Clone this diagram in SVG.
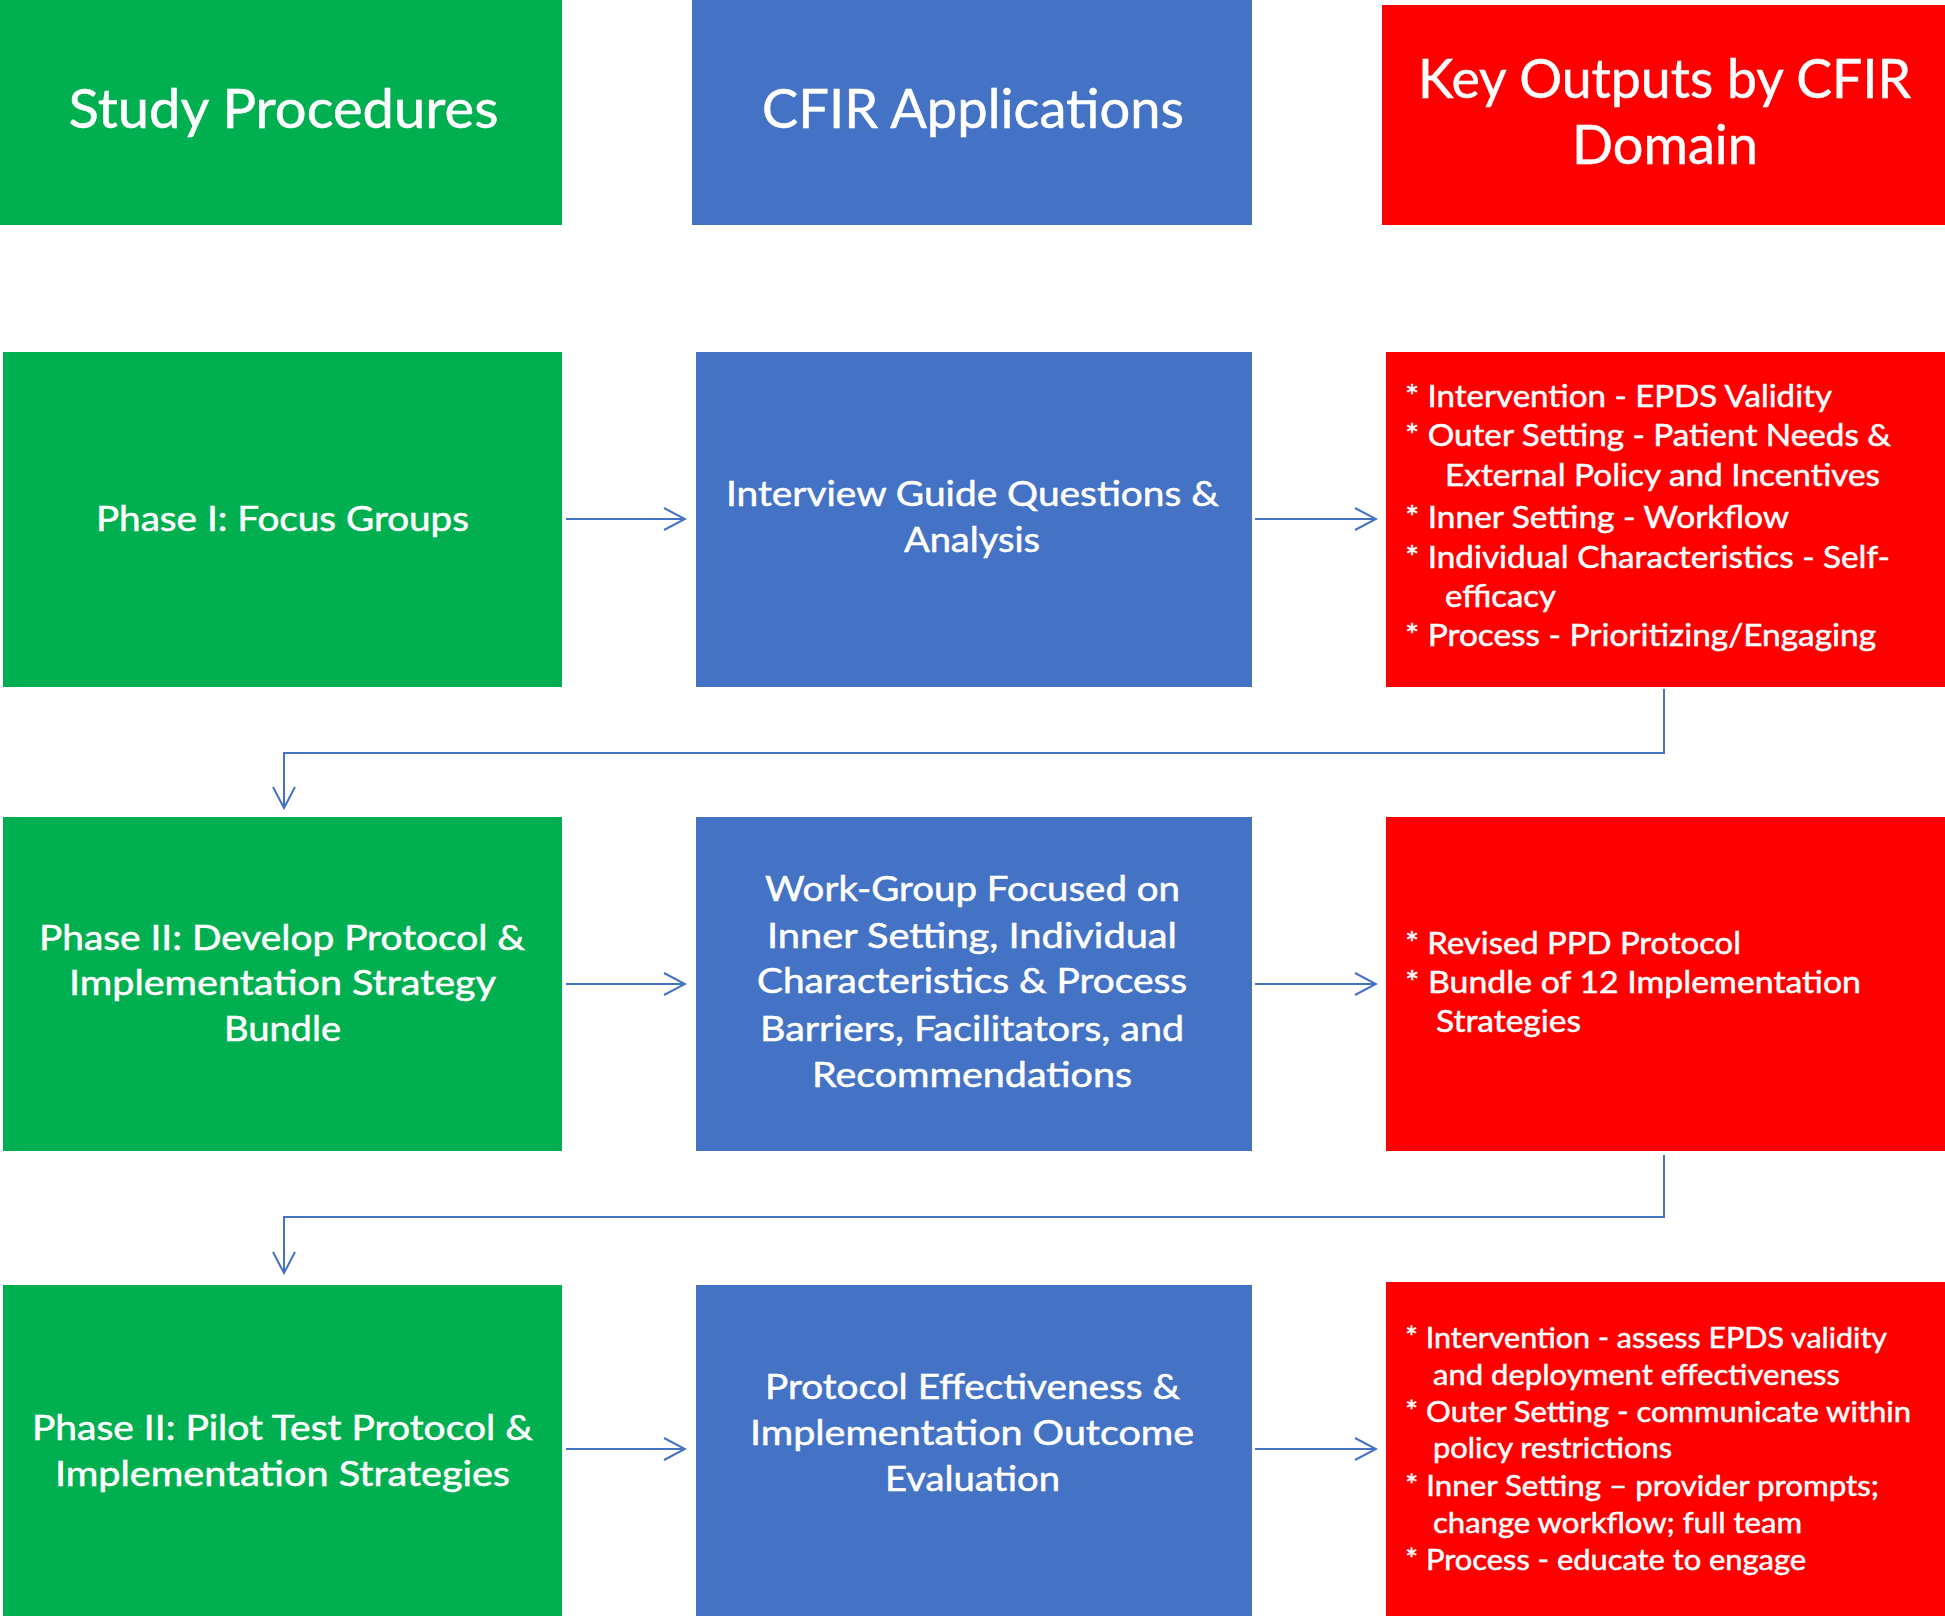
<svg xmlns="http://www.w3.org/2000/svg" width="1945" height="1616" viewBox="0 0 1945 1616">
<style>
.g{fill:#00B050}
.b{fill:#4472C4}
.r{fill:#FF0000}
text{font-family:Lato,"Open Sans","Liberation Sans",sans-serif;fill:#FFFFFF;stroke:#FFFFFF;stroke-width:0.5}
.h{font-size:54px;text-anchor:middle}
.t{font-size:34px;text-anchor:middle}
.l{font-size:31px}
.s{font-size:29px}
.c{fill:none;stroke:#4472C4;stroke-width:2}
</style>
<defs>
<marker id="ah" markerUnits="userSpaceOnUse" viewBox="0 0 24 26" markerWidth="24" markerHeight="26" refX="22" refY="13" orient="auto">
<path d="M1,2 L22,13 L1,24" fill="none" stroke="#4472C4" stroke-width="2"/>
</marker>
</defs>
<rect width="1945" height="1616" fill="#FFFFFF"/>
<g id="hdr-study">
<rect class="g" x="0" y="0" width="562" height="225"/>
<text class="h" x="283.5" y="128" textLength="430" lengthAdjust="spacingAndGlyphs">Study Procedures</text>
</g>
<g id="hdr-cfir">
<rect class="b" x="692" y="0" width="560" height="225"/>
<text class="h" x="973" y="128" textLength="422" lengthAdjust="spacingAndGlyphs">CFIR Applications</text>
</g>
<g id="hdr-outputs">
<rect class="r" x="1382" y="5" width="563" height="220"/>
<text class="h" x="1664.5" y="98" textLength="493" lengthAdjust="spacingAndGlyphs">Key Outputs by CFIR</text>
<text class="h" x="1665" y="164" textLength="186" lengthAdjust="spacingAndGlyphs">Domain</text>
</g>
<g id="phase1">
<rect class="g" x="3" y="352" width="559" height="335"/>
<text class="t" x="282.5" y="531" textLength="373" lengthAdjust="spacingAndGlyphs">Phase I: Focus Groups</text>
</g>
<g id="interview">
<rect class="b" x="696" y="352" width="556" height="335"/>
<text class="t" x="972.5" y="506" textLength="493" lengthAdjust="spacingAndGlyphs">Interview Guide Questions &amp;</text>
<text class="t" x="972" y="552" textLength="136" lengthAdjust="spacingAndGlyphs">Analysis</text>
</g>
<g id="outputs1">
<rect class="r" x="1386" y="352" width="559" height="335"/>
<text class="l" x="1405" y="407" textLength="427" lengthAdjust="spacingAndGlyphs">* Intervention - EPDS Validity</text>
<text class="l" x="1405" y="446" textLength="486" lengthAdjust="spacingAndGlyphs">* Outer Setting - Patient Needs &amp;</text>
<text class="l" x="1445" y="486" textLength="435" lengthAdjust="spacingAndGlyphs">External Policy and Incentives</text>
<text class="l" x="1405" y="528" textLength="384" lengthAdjust="spacingAndGlyphs">* Inner Setting - Workflow</text>
<text class="l" x="1405" y="568" textLength="485" lengthAdjust="spacingAndGlyphs">* Individual Characteristics - Self-</text>
<text class="l" x="1445" y="607" textLength="111" lengthAdjust="spacingAndGlyphs">efficacy</text>
<text class="l" x="1405" y="646" textLength="471" lengthAdjust="spacingAndGlyphs">* Process - Prioritizing/Engaging</text>
</g>
<g id="phase2">
<rect class="g" x="3" y="817" width="559" height="334"/>
<text class="t" x="282" y="950" textLength="486" lengthAdjust="spacingAndGlyphs">Phase II: Develop Protocol &amp;</text>
<text class="t" x="282.5" y="995" textLength="427" lengthAdjust="spacingAndGlyphs">Implementation Strategy</text>
<text class="t" x="282.5" y="1041" textLength="117" lengthAdjust="spacingAndGlyphs">Bundle</text>
</g>
<g id="workgroup">
<rect class="b" x="696" y="817" width="556" height="334"/>
<text class="t" x="972.5" y="901" textLength="415" lengthAdjust="spacingAndGlyphs">Work-Group Focused on</text>
<text class="t" x="972" y="948" textLength="410" lengthAdjust="spacingAndGlyphs">Inner Setting, Individual</text>
<text class="t" x="972" y="993" textLength="430" lengthAdjust="spacingAndGlyphs">Characteristics &amp; Process</text>
<text class="t" x="972" y="1041" textLength="424" lengthAdjust="spacingAndGlyphs">Barriers, Facilitators, and</text>
<text class="t" x="972" y="1087" textLength="320" lengthAdjust="spacingAndGlyphs">Recommendations</text>
</g>
<g id="outputs2">
<rect class="r" x="1386" y="817" width="559" height="334"/>
<text class="l" x="1405" y="954" textLength="336" lengthAdjust="spacingAndGlyphs">* Revised PPD Protocol</text>
<text class="l" x="1405" y="993" textLength="456" lengthAdjust="spacingAndGlyphs">* Bundle of 12 Implementation</text>
<text class="l" x="1436" y="1032" textLength="145" lengthAdjust="spacingAndGlyphs">Strategies</text>
</g>
<g id="phase2-pilot">
<rect class="g" x="3" y="1285" width="559" height="331"/>
<text class="t" x="282.5" y="1440" textLength="501" lengthAdjust="spacingAndGlyphs">Phase II: Pilot Test Protocol &amp;</text>
<text class="t" x="282.5" y="1486" textLength="455" lengthAdjust="spacingAndGlyphs">Implementation Strategies</text>
</g>
<g id="evaluation">
<rect class="b" x="696" y="1285" width="556" height="331"/>
<text class="t" x="972.5" y="1399" textLength="415" lengthAdjust="spacingAndGlyphs">Protocol Effectiveness &amp;</text>
<text class="t" x="972" y="1445" textLength="444" lengthAdjust="spacingAndGlyphs">Implementation Outcome</text>
<text class="t" x="972.5" y="1491" textLength="175" lengthAdjust="spacingAndGlyphs">Evaluation</text>
</g>
<g id="outputs3">
<rect class="r" x="1386" y="1282" width="559" height="334"/>
<text class="s" x="1405" y="1348" textLength="482" lengthAdjust="spacingAndGlyphs">* Intervention - assess EPDS validity</text>
<text class="s" x="1433" y="1385" textLength="407" lengthAdjust="spacingAndGlyphs">and deployment effectiveness</text>
<text class="s" x="1405" y="1422" textLength="506" lengthAdjust="spacingAndGlyphs">* Outer Setting - communicate within</text>
<text class="s" x="1433" y="1458" textLength="239" lengthAdjust="spacingAndGlyphs">policy restrictions</text>
<text class="s" x="1405" y="1496" textLength="474" lengthAdjust="spacingAndGlyphs">* Inner Setting – provider prompts;</text>
<text class="s" x="1433" y="1533" textLength="369" lengthAdjust="spacingAndGlyphs">change workflow; full team</text>
<text class="s" x="1405" y="1570" textLength="401" lengthAdjust="spacingAndGlyphs">* Process - educate to engage</text>
</g>
<g id="connectors">
<path class="c" d="M566,519 H685" marker-end="url(#ah)"/>
<path class="c" d="M1255,519 H1376" marker-end="url(#ah)"/>
<path class="c" d="M1664,689 V753 H284 V808" marker-end="url(#ah)"/>
<path class="c" d="M566,984 H685" marker-end="url(#ah)"/>
<path class="c" d="M1255,984 H1376" marker-end="url(#ah)"/>
<path class="c" d="M1664,1155 V1217 H284 V1273" marker-end="url(#ah)"/>
<path class="c" d="M566,1449 H685" marker-end="url(#ah)"/>
<path class="c" d="M1255,1449 H1376" marker-end="url(#ah)"/>
</g>
</svg>
